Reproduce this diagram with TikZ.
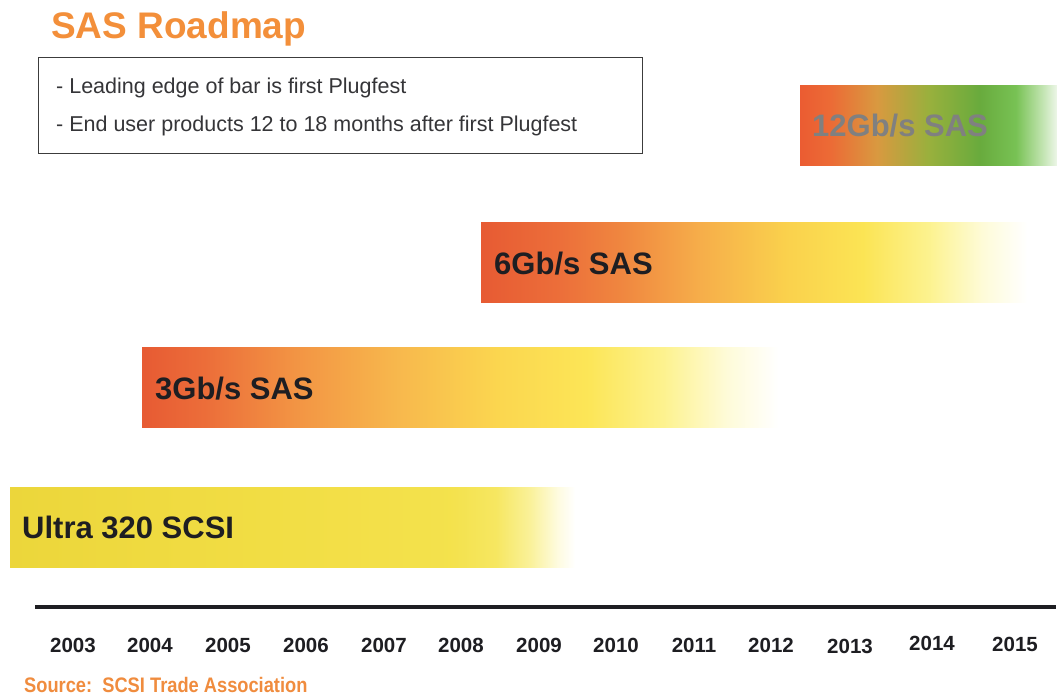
\documentclass[tikz,border=0pt]{standalone}
\usepackage{fontspec}
\setmainfont{Liberation Sans}
\newfontfamily\narrowsans[FakeStretch=0.87]{Liberation Sans}
\usetikzlibrary{shadings}
\definecolor{titleorange}{RGB}{243,143,58}
\definecolor{srcorange}{RGB}{240,140,62}
\definecolor{inkdark}{RGB}{30,30,34}
\definecolor{boxline}{RGB}{60,60,60}
\definecolor{labelgray}{RGB}{128,128,128}
\pgfdeclarehorizontalshading{sixgshade}{100bp}{
  rgb(0bp)=(0.905,0.355,0.200);
  rgb(25bp)=(0.905,0.355,0.200);
  rgb(32bp)=(0.925,0.430,0.225);
  rgb(38bp)=(0.940,0.530,0.250);
  rgb(45bp)=(0.965,0.680,0.290);
  rgb(53bp)=(0.980,0.820,0.300);
  rgb(60bp)=(0.985,0.895,0.330);
  rgb(66bp)=(0.990,0.950,0.560);
  rgb(71bp)=(0.995,0.985,0.850);
  rgb(75bp)=(1,1,1);
  rgb(100bp)=(1,1,1)}
\pgfdeclarehorizontalshading{threegshade}{100bp}{
  rgb(0bp)=(0.905,0.355,0.200);
  rgb(25bp)=(0.905,0.355,0.200);
  rgb(30bp)=(0.925,0.430,0.225);
  rgb(37bp)=(0.950,0.580,0.265);
  rgb(45bp)=(0.970,0.720,0.300);
  rgb(53bp)=(0.985,0.840,0.310);
  rgb(60bp)=(0.988,0.900,0.340);
  rgb(66bp)=(0.992,0.950,0.560);
  rgb(71bp)=(0.997,0.985,0.850);
  rgb(75bp)=(1,1,1);
  rgb(100bp)=(1,1,1)}
\pgfdeclarehorizontalshading{twelvegshade}{100bp}{
  rgb(0bp)=(0.920,0.360,0.195);
  rgb(25bp)=(0.920,0.360,0.195);
  rgb(31bp)=(0.925,0.420,0.210);
  rgb(40bp)=(0.850,0.600,0.250);
  rgb(50bp)=(0.600,0.690,0.240);
  rgb(60bp)=(0.410,0.670,0.240);
  rgb(67bp)=(0.470,0.760,0.330);
  rgb(72bp)=(0.750,0.890,0.680);
  rgb(75bp)=(0.930,0.965,0.910);
  rgb(100bp)=(0.930,0.965,0.910)}
\pgfdeclarehorizontalshading{ultrashade}{100bp}{
  rgb(0bp)=(0.925,0.840,0.230);
  rgb(25bp)=(0.925,0.840,0.230);
  rgb(50bp)=(0.950,0.870,0.270);
  rgb(64bp)=(0.955,0.885,0.300);
  rgb(68bp)=(0.965,0.905,0.380);
  rgb(71bp)=(0.980,0.945,0.600);
  rgb(73.5bp)=(0.995,0.985,0.880);
  rgb(75bp)=(1,1,1);
  rgb(100bp)=(1,1,1)}
\tikzset{
  barbox/.style={anchor=north west, inner sep=0pt, outer sep=0pt, minimum height=80pt, draw=none},
  barlabel/.style={anchor=base west, inner sep=0pt, font=\fontsize{31}{34}\selectfont\bfseries, text=inkdark},
  notetext/.style={anchor=base west, inner sep=0pt, font=\fontsize{21.5}{24}\selectfont, text=inkdark!90},
  yearlabel/.style={anchor=base, inner sep=0pt, font=\fontsize{20.5}{22}\selectfont\bfseries, text=inkdark}
}
\begin{document}
\begin{tikzpicture}[x=1pt,y=-1pt]
\fill[white] (0,0) rectangle (1057,696);
\useasboundingbox (0,0) rectangle (1057,696);
% title
\node[anchor=base west, inner sep=0pt, font=\fontsize{37}{40}\selectfont\bfseries, text=titleorange] (title) at (51,38) {SAS Roadmap};
% note box
\node[draw=boxline, line width=1.3pt, anchor=north west, inner sep=0pt, minimum width=604pt, minimum height=96pt] (notebox) at (38,57) {};
\node[notetext] (note1) at (56,93) {- Leading edge of bar is first Plugfest};
\node[notetext] (note2) at (56,131) {- End user products 12 to 18 months after first Plugfest};
% bars
\node[barbox, shade, shading=twelvegshade, minimum width=257pt] (bar12) at (800,85) {};
\node[barlabel, text=labelgray] (lab12) at (812,136) {12Gb/s SAS};
\node[barbox, shade, shading=sixgshade, minimum width=546pt] (bar6) at (481,222) {};
\node[barlabel] (lab6) at (494,274) {6Gb/s SAS};
\node[barbox, shade, shading=threegshade, minimum width=636pt] (bar3) at (142,347) {};
\node[barlabel] (lab3) at (155,399) {3Gb/s SAS};
\node[barbox, shade, shading=ultrashade, minimum width=565pt] (barU) at (10,487) {};
\node[barlabel] (labU) at (22,538) {Ultra 320 SCSI};
% axis
\coordinate (axL) at (35,607);
\coordinate (axR) at (1056,607);
\draw[line width=4pt, inkdark] (axL) -- (axR);
% years
\foreach \yr/\xx/\yy in {2003/73/652,2004/150/652,2005/228/652,2006/306/652,2007/384/652,2008/461/652,2009/539/652,2010/616/652,2011/694/652,2012/771/652,2013/850/653,2014/932/650,2015/1015/651}{
  \node[yearlabel] (y\yr) at (\xx,\yy) {\yr};
}
% source
\node[anchor=base west, inner sep=0pt, font=\narrowsans\fontsize{21}{23}\selectfont\bfseries, text=srcorange] (source) at (24,692) {Source:\ \ SCSI Trade Association};
\end{tikzpicture}
\end{document}
